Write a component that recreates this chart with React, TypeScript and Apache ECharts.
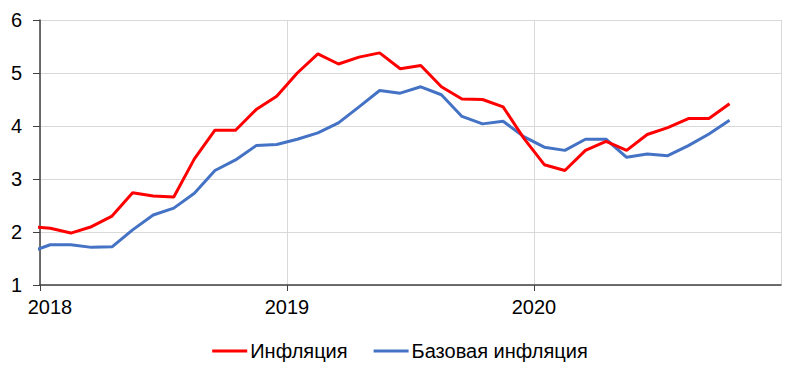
import React, { useEffect, useRef } from "react";
import * as echarts from "echarts";

// Monthly data, Dec 2017 .. Oct 2020 (first point clipped by axis start)
const startYear = 2017;
const startMonth = 12; // December
const inflation = [
  2.1, 2.07, 1.98, 2.1, 2.3, 2.74, 2.68, 2.66, 3.38, 3.92, 3.92, 4.31, 4.56,
  5.0, 5.36, 5.17, 5.3, 5.38, 5.08, 5.14, 4.74, 4.51, 4.5, 4.36, 3.77,
  3.27, 3.16, 3.54, 3.71, 3.54, 3.84, 3.97, 4.14, 4.14, 4.42,
];
const coreInflation = [
  1.62, 1.76, 1.76, 1.71, 1.72, 2.04, 2.32, 2.45, 2.73, 3.16, 3.36, 3.63, 3.65,
  3.75, 3.87, 4.06, 4.36, 4.67, 4.62, 4.74, 4.59, 4.18, 4.04, 4.09, 3.8,
  3.6, 3.54, 3.75, 3.75, 3.41, 3.47, 3.44, 3.63, 3.85, 4.11,
];
const seriesNames = ["Инфляция", "Базовая инфляция"];
const yTicks = [1, 2, 3, 4, 5, 6];
const xYears = [2018, 2019, 2020, 2021];

const toPoints = (vals: number[]) =>
  vals.map((v, i) => [startYear + (startMonth - 0.5 + i) / 12, v]);

export default function App() {
  const ref = useRef<HTMLDivElement>(null);
  useEffect(() => {
    if (!ref.current) return;
    const chart = echarts.init(ref.current, null, { renderer: "svg" });
    const font = "'Liberation Sans', Arial, sans-serif";
    chart.setOption({
      animation: false,
      textStyle: { fontFamily: font },
      grid: { left: 40, right: 19, top: 20, bottom: 90, containLabel: false },
      legend: {
        top: 336,
        left: "center",
        icon: "rect",
        itemWidth: 35,
        itemHeight: 3,
        itemGap: 26,
        textStyle: { fontSize: 20, color: "#000", fontFamily: font, padding: [0, 0, 0, -2] },
        data: seriesNames,
      },
      xAxis: {
        type: "value",
        min: xYears[0],
        max: xYears[xYears.length - 1],
        interval: 1,
        axisLine: { show: true, lineStyle: { color: "#404040", width: 1.5 } },
        axisTick: { show: true, length: 6, lineStyle: { color: "#404040" } },
        splitLine: { show: true, lineStyle: { color: "#D9D9D9", width: 1 } },
        axisLabel: {
          showMaxLabel: false,
          margin: 12,
          fontSize: 20,
          color: "#000",
          fontFamily: font,
          formatter: (v: number) =>
            v === xYears[0] ? "{a|" + v + "}" : String(v),
          rich: {
            a: { fontSize: 20, color: "#000", fontFamily: font, padding: [0, 0, 0, 20] },
          },
        },
      },
      yAxis: {
        type: "value",
        min: yTicks[0],
        max: yTicks[yTicks.length - 1],
        interval: 1,
        axisLine: { show: true, lineStyle: { color: "#404040", width: 1.5 } },
        axisTick: { show: true, length: 7, lineStyle: { color: "#404040" } },
        splitLine: { show: true, lineStyle: { color: "#D9D9D9", width: 1 } },
        axisLabel: { margin: 18, fontSize: 20, color: "#000", fontFamily: font },
      },
      series: [
        {
          name: seriesNames[0],
          type: "line",
          data: toPoints(inflation),
          symbol: "none",
          clip: true,
          lineStyle: { color: "#FF0000", width: 3 },
          itemStyle: { color: "#FF0000" },
          z: 3,
        },
        {
          name: seriesNames[1],
          type: "line",
          data: toPoints(coreInflation),
          symbol: "none",
          clip: true,
          lineStyle: { color: "#4472C4", width: 3 },
          itemStyle: { color: "#4472C4" },
          z: 2,
        },
      ],
    });
    return () => chart.dispose();
  }, []);
  return (
    <div
      ref={ref}
      style={{ position: "absolute", left: 0, top: 0, width: 800, height: 375 }}
    />
  );
}
